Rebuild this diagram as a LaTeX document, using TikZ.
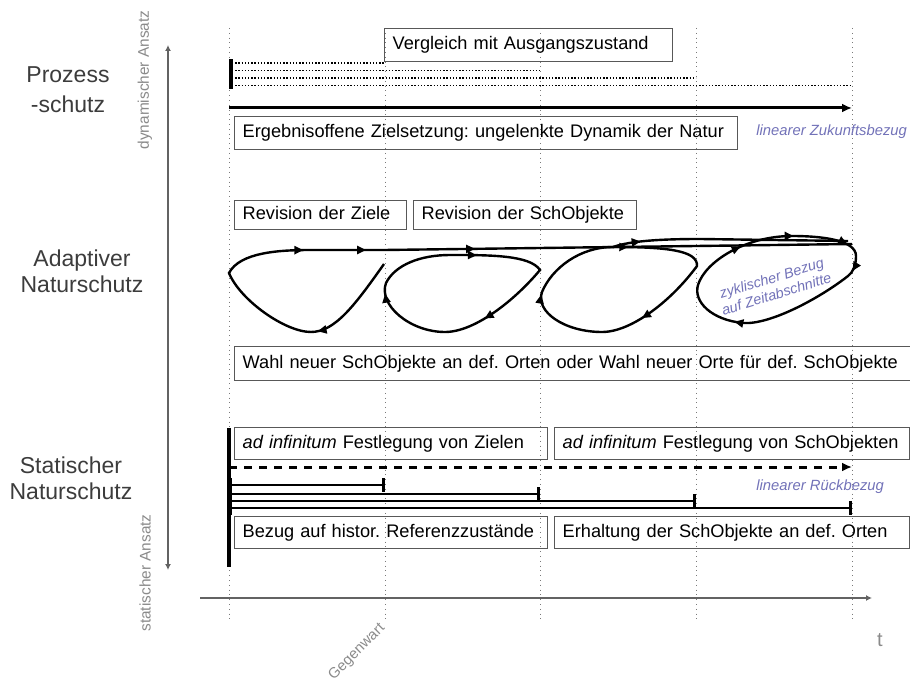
\documentclass[tikz,border=0pt]{standalone}
\usepackage{fontspec}
\setmainfont{Liberation Sans}
\usetikzlibrary{arrows.meta,decorations.markings}
\definecolor{NGrid}{HTML}{7A7A7A}
\definecolor{NFrame}{HTML}{585858}
\definecolor{NLabel}{HTML}{3C3C3C}
\definecolor{NBlue}{HTML}{7272B8}
\definecolor{NAxis}{HTML}{8A8A8A}
\tikzset{
  sbox/.style={draw=NFrame,line width=0.7pt,anchor=north west,inner xsep=4pt,inner ysep=0pt,
               align=left,text width=#1,text height=6.8pt,text depth=2pt,
               font=\fontsize{9.1}{11}\selectfont,
               execute at begin node={\frenchspacing\hyphenpenalty=10000}},
  sidelbl/.style={NLabel,align=center,font=\fontsize{11.5}{13}\selectfont},
  bluelbl/.style={NBlue,inner sep=0pt,font=\fontsize{7.4}{8.5}\selectfont\itshape},
  axlbl/.style={NAxis,font=\fontsize{7.7}{9}\selectfont},
  gridln/.style={NGrid,line width=0.4pt,dotted},
  dotln/.style={line width=0.9pt,dash pattern=on 0.7pt off 0.9pt,{Bar[width=3.6pt,line width=2pt]}-},
  barln/.style={line width=1pt,{Bar[width=7pt,line width=1.5pt]}-{Bar[width=7pt,line width=1.5pt]}},
  cycln/.style={line width=1.2pt},
  arr/.style={postaction={decorate,decoration={markings,
              mark=at position #1 with {\arrow{Triangle[length=4.5pt,width=4pt]}}}}},
}
\begin{document}
\begin{tikzpicture}[x=0.5pt,y=-0.5pt]
  \useasboundingbox (0,0) rectangle (910,684);
  % grid of time steps
  \foreach \x in {229,385,540,696,852}
    \draw[gridln] (\x,28) -- (\x,620);

  % axes
  \coordinate (ax-top) at (168,45);
  \coordinate (ax-bot) at (168,570);
  \coordinate (t-beg) at (200,598);
  \coordinate (t-end) at (872,598);
  \draw[NLabel!80,line width=0.6pt,{Latex[length=3pt,width=3pt]}-{Latex[length=3pt,width=3pt]}] (ax-top) -- (ax-bot);
  \draw[NLabel!80,line width=0.6pt,-{Latex[length=3pt,width=3pt]}] (t-beg) -- (t-end);
  \node[axlbl,rotate=90] (dynlbl) at (145,80) {dynamischer Ansatz};
  \node[axlbl,rotate=90] (statlbl) at (145,573) {statischer Ansatz};
  \node[axlbl,rotate=45,inner sep=0pt,font=\fontsize{7.4}{8}\selectfont] (gegw) at (357,652) {Gegenwart};
  \node[NAxis,font=\fontsize{10}{11}\selectfont] (tlbl) at (880,640) {t};

  % row labels
  \node[sidelbl] (prozess) at (68,90) {Prozess\\[2pt]-schutz};
  \node[sidelbl] (adapt) at (82,271) {Adaptiver\\Naturschutz};
  \node[sidelbl] (stat) at (71,478) {Statischer\\Naturschutz};

  % Prozessschutz
  \node[sbox=136pt,minimum height=16.5pt] (vgl) at (384,28) {Vergleich mit Ausgangszustand};
  \foreach \xe [count=\i] in {385,540,696,852}
    \draw[dotln] (229,55.5+7.5*\i) -- (\xe,55.5+7.5*\i);
  \draw[line width=1.5pt,-{Latex[length=5pt,width=4.5pt]}] (229,108) -- (852,108);
  \node[sbox=243.5pt,minimum height=16.5pt] (ergeb) at (234,116) {Ergebnisoffene Zielsetzung: ungelenkte Dynamik der Natur};
  \node[bluelbl,anchor=west] (zuk) at (756,132) {linearer Zukunftsbezug};

  % adaptiver Naturschutz
  \node[sbox=78pt,minimum height=14.5pt] (revz) at (234,200) {Revision der Ziele};
  \node[sbox=103.5pt,minimum height=14.5pt] (revo) at (413,200) {Revision der SchObjekte};
  \draw[cycln,arr=0.115,arr=0.345,arr=0.42,arr=0.55]
    (384,264) .. controls (355,305) and (335,332) .. (311,332)
    .. controls (285,332) and (240,300) .. (229,273)
    .. controls (240,252) and (280,250) .. (311,250) -- (384,250) -- (852,244);
  \draw[cycln,arr=0.2,arr=0.52,arr=0.82]
    (540,270) .. controls (515,300) and (475,332) .. (445,332)
    .. controls (410,332) and (378,305) .. (386,283)
    .. controls (395,265) and (420,255) .. (450,255)
    .. controls (490,255) and (530,255) .. cycle;
  \draw[cycln,arr=0.2,arr=0.52,arr=0.8]
    (697,266) .. controls (672,300) and (632,332) .. (602,332)
    .. controls (565,332) and (535,312) .. (542,292)
    .. controls (552,268) and (580,247) .. (613,247)
    .. controls (665,247) and (698,250) .. cycle;
  \draw[cycln,arr=0.12] (613,247) .. controls (630,241) and (660,239) .. (700,239) -- (848,241);
  \draw[cycln,arr=0.04,arr=0.38,arr=0.68,arr=0.82,arr=0.96]
    (856,256) .. controls (856,266) and (853,272) .. (848,276)
    .. controls (820,298) and (770,325) .. (743,323)
    .. controls (712,320) and (693,302) .. (698,285)
    .. controls (705,262) and (745,236) .. (792,236)
    .. controls (822,236) and (856,240) .. cycle;
  \node[bluelbl,rotate=17,align=center,font=\fontsize{7.2}{8.3}\selectfont\itshape] (zykl) at (774,286) {zyklischer Bezug\\auf Zeitabschnitte};
  \node[sbox=330pt,minimum height=17pt] (wahl) at (234,346) {Wahl neuer SchObjekte an def. Orten oder Wahl neuer Orte für def. SchObjekte};

  % statischer Naturschutz
  \node[sbox=148.5pt,minimum height=16pt] (adz) at (234,427) {\textit{ad infinitum} Festlegung von Zielen};
  \node[sbox=169.5pt,minimum height=16pt] (ado) at (554,427) {\textit{ad infinitum} Festlegung von SchObjekten};
  \draw[line width=1.5pt,dash pattern=on 4pt off 3.5pt,-{Latex[length=5pt,width=4.5pt]}] (229,467) -- (852,467);
  \node[bluelbl,anchor=west] (rueck) at (756,487) {linearer Rückbezug};
  \foreach \xe/\y in {385/485,540/494,696/501,852/508}
    \draw[barln] (229,\y) -- (\xe,\y);
  \draw[line width=1.6pt] (229,428) -- (229,567);
  \node[sbox=148.5pt,minimum height=16pt] (bez) at (234,516) {Bezug auf histor. Referenzzustände};
  \node[sbox=169.5pt,minimum height=16pt] (erh) at (554,516) {Erhaltung der SchObjekte an def. Orten};
\end{tikzpicture}
\end{document}
